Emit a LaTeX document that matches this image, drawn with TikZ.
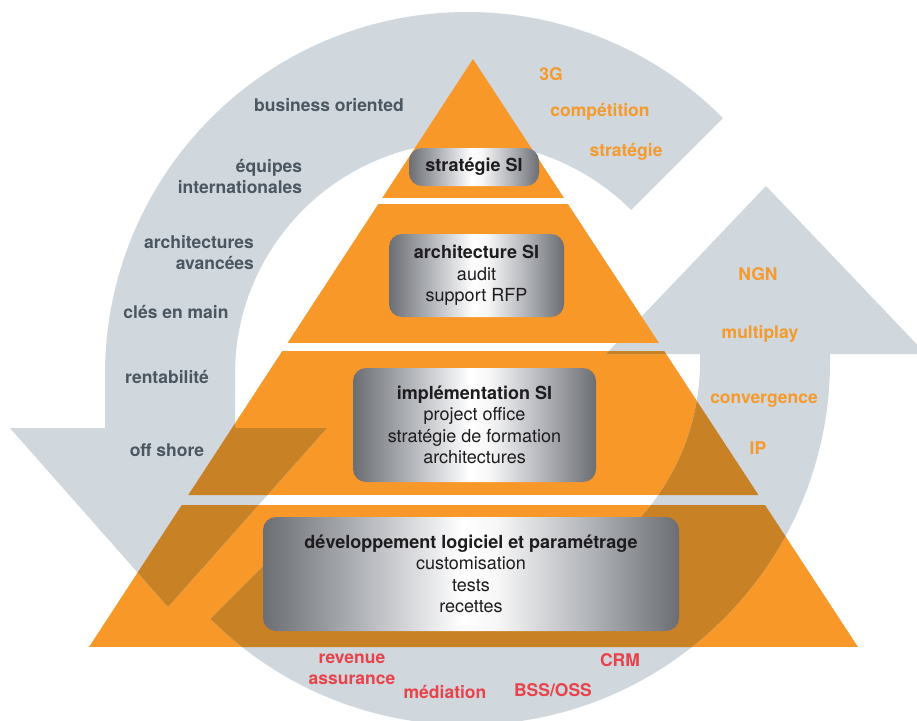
\documentclass[tikz,border=0pt]{standalone}
\usepackage{fontspec}
\setmainfont{TeX Gyre Heros}
\usetikzlibrary{positioning}

\definecolor{pyrorange}{RGB}{247,152,41}
\definecolor{ringgrey}{RGB}{208,215,221}
\definecolor{darkorange}{RGB}{201,129,38}
\definecolor{slategrey}{RGB}{74,86,96}
\definecolor{labelred}{RGB}{233,66,74}
\definecolor{labelorange}{RGB}{245,154,43}
\definecolor{boxtext}{RGB}{30,28,30}

\pgfdeclarehorizontalshading{metal}{100bp}{rgb(0bp)=(0.42,0.43,0.45); rgb(25bp)=(0.42,0.43,0.45); rgb(37bp)=(0.70,0.71,0.73); rgb(49bp)=(1,1,1); rgb(53bp)=(0.97,0.97,0.97); rgb(64bp)=(0.70,0.71,0.73); rgb(75bp)=(0.42,0.43,0.45); rgb(100bp)=(0.42,0.43,0.45)}

\newcommand{\lblfont}{\fontsize{17.5}{21}\selectfont\bfseries}
\newcommand{\boxfont}{\fontsize{18}{21.5}\selectfont}

% the two halves of the ring, in pixel coordinates
\newcommand{\toparrowpath}{(467,374) ++(-45:362) arc[start angle=-45,end angle=-180,radius=362]
  -- (105,428) -- (10,428) -- (168,607) -- (327,428) -- (235,428) -- (235,374)
  arc[start angle=-180,end angle=-45,radius=232] -- cycle}
\newcommand{\bottomarrowpath}{(467,362) ++(135:363) arc[start angle=135,end angle=0,radius=363]
  -- (830,354) -- (926,354) -- (766,186) -- (606,354) -- (700,354) -- (700,362)
  arc[start angle=0,end angle=135,radius=233] -- cycle}
\newcommand{\pyramidpath}{(473,59) -- (858,647) -- (89,647) -- cycle}

\begin{document}
\begin{tikzpicture}
      [ x=1pt, y=-1pt
        , ring/.style={fill=ringgrey}
        , band/.style={fill=pyrorange}
        , metalbox/.style={rounded corners=13pt, shading=metal, inner sep=0pt,
            align=center, font=\boxfont, text=boxtext}
        , greylbl/.style={inner sep=0pt, font=\lblfont, text=slategrey}
        , orangelbl/.style={inner sep=0pt, font=\lblfont, text=labelorange}
        , redlbl/.style={inner sep=0pt, font=\lblfont, text=labelred}
      ]
      \useasboundingbox (0,0) rectangle (917,720);
      \fill[white] (0,0) rectangle (917,720);
      \clip (0,0) rectangle (917,720);

      % lower bands, under the ring
      \begin{scope}
        \clip \pyramidpath;
        \fill[band] (0,351) rectangle (917,495);
        \fill[band] (0,505) rectangle (917,647);
      \end{scope}

      \fill[ring] \toparrowpath;
      \fill[ring] \bottomarrowpath;

      \begin{scope}
        \clip \pyramidpath;
        \clip (0,351) rectangle (917,495) (0,505) rectangle (917,647);
        \fill[darkorange] \toparrowpath;
        \fill[darkorange] \bottomarrowpath;
      \end{scope}

      % upper bands, over the ring
      \begin{scope}
        \clip \pyramidpath;
        \fill[band] (0,59) rectangle (917,198);
        \fill[band] (0,204) rectangle (917,343);
      \end{scope}

      \node (strat) [metalbox, minimum width=130pt, minimum height=38pt] at (474,167)
        {\bfseries strat\'egie SI};
      \node (archi) [metalbox, minimum width=175pt, minimum height=83pt] at (476.5,275.5)
        {{\bfseries architecture SI}\\audit\\support RFP};
      \node (impl) [metalbox, minimum width=243pt, minimum height=114pt] at (474.5,425)
        {{\bfseries impl\'ementation SI}\\project office\\strat\'egie de formation\\architectures};
      \node (dev) [metalbox, minimum width=416pt, minimum height=114pt] at (471,574)
        {{\bfseries d\'eveloppement logiciel et param\'etrage}\\customisation\\tests\\recettes};

      \node (business) [greylbl] at (329,105.5) {business oriented};
      \node (equipes) [greylbl, align=right] at (240,176) {\'equipes\\internationales};
      \node (avancees) [greylbl, align=right] at (199,252.5) {architectures\\avanc\'ees};
      \node (cles) [greylbl] at (176,311.5) {cl\'es en main};
      \node (rentab) [greylbl] at (167,376.5) {rentabilit\'e};
      \node (offshore) [greylbl] at (167,450) {off shore};

      \node (threeg) [orangelbl] at (551,74.5) {3G};
      \node (compet) [orangelbl] at (600,112) {comp\'etition};
      \node (strategie) [orangelbl] at (626,152) {strat\'egie};
      \node (ngn) [orangelbl] at (758,274.5) {NGN};
      \node (multi) [orangelbl] at (760,334) {multiplay};
      \node (conv) [orangelbl] at (764,401) {convergence};
      \node (ip) [orangelbl] at (758,448) {IP};

      \node (revenue) [redlbl, align=center] at (352,669.5) {revenue\\assurance};
      \node (mediation) [redlbl] at (445,692) {m\'ediation};
      \node (bss) [redlbl] at (553,690) {BSS/OSS};
      \node (crm) [redlbl] at (620,660) {CRM};

    \end{tikzpicture}
\end{document}
